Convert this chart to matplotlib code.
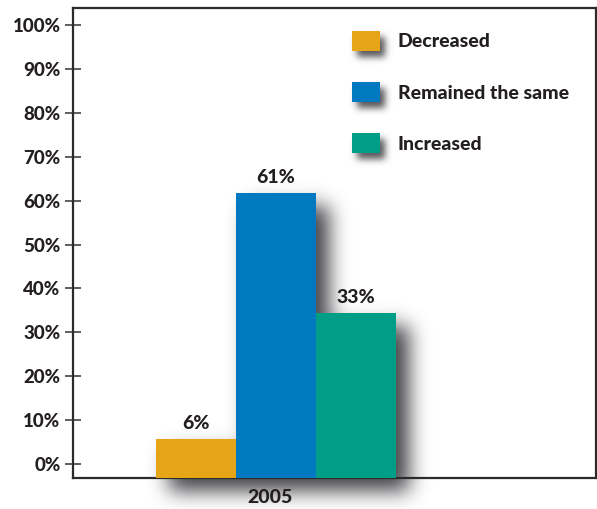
import numpy as np
import matplotlib
matplotlib.use("Agg")
import matplotlib.pyplot as plt
from matplotlib.patches import Patch

# ---- data ----
categories = ["2005"]
series = ["Decreased", "Remained the same", "Increased"]
values = [5.7, 61.8, 34.4]          # bar heights as drawn in the picture
value_labels = ["6%", "61%", "33%"]  # printed labels
colors = ["#E6A417", "#0079C1", "#009E87"]
yticks = list(range(0, 101, 10))
ytick_labels = [f"{v}%" for v in yticks]

plt.rcParams['font.family'] = ['Lato', 'DejaVu Sans']
TXT = "#231F20"
FW = 900
FS = 14

W, H, DPI = 597, 509, 100
fig = plt.figure(figsize=(W / DPI, H / DPI), dpi=DPI, facecolor="white")
ax = fig.add_axes([73 / W, (H - 478) / H, 523 / W, 470 / H])
ax.set_facecolor("none")

ymin, ymax = -3.2, 103.9
ax.set_ylim(ymin, ymax)
ax.set_xlim(-2.54, 4.0)

offsets = [-1, 0, 1]
bars = []
for i, (s, v, c) in enumerate(zip(series, values, colors)):
    b = ax.bar(offsets[i], v - ymin, bottom=ymin, width=1.0, color=c,
               label=s, zorder=3)
    bars.append(b[0])
    ax.annotate(value_labels[i], (offsets[i], v), xytext=(0, 5),
                textcoords="offset points", ha="center", va="bottom",
                fontsize=FS, fontweight=FW, color=TXT, zorder=4)

ax.set_yticks(yticks)
ax.set_yticklabels(ytick_labels, fontweight=FW)
ax.set_xticks([-0.07])
ax.set_xticklabels(categories, fontweight=FW)
ax.tick_params(axis="y", direction="inout", length=12, width=1.2,
               color="#444444", pad=3, labelsize=FS - 0.5, labelcolor=TXT)
ax.tick_params(axis="x", length=0, pad=8, labelsize=FS, labelcolor=TXT)
for sp in ax.spines.values():
    sp.set_linewidth(1.6)
    sp.set_color("#2b2b2b")

handles = [Patch(facecolor=c, edgecolor="none") for c in colors]
leg = ax.legend(handles, series, loc="upper left",
                bbox_to_anchor=((352 - 73) / 523, (478 - 31) / 470),
                frameon=False, fontsize=FS, handlelength=1.44,
                handleheight=1.18, labelspacing=1.62, handletextpad=0.9,
                borderpad=0, borderaxespad=0)
for t in leg.get_texts():
    t.set_color(TXT)
    t.set_fontweight(FW)

# ---- drop shadows (blurred) ----
fig.canvas.draw()


def gauss_blur(img, sigma):
    r = int(3 * sigma)
    x = np.arange(-r, r + 1)
    k = np.exp(-x ** 2 / (2 * sigma ** 2))
    k /= k.sum()
    pad = np.pad(img, r, mode="constant")
    tmp = np.apply_along_axis(lambda m: np.convolve(m, k, mode="valid"), 0, pad)
    out = np.apply_along_axis(lambda m: np.convolve(m, k, mode="valid"), 1, tmp)
    return out


def mask_from(extents, dx, dy):
    m = np.zeros((H, W))
    for e in extents:
        x0, x1 = int(round(e.x0 + dx)), int(round(e.x1 + dx))
        y0, y1 = int(round(e.y0 - dy)), int(round(e.y1 - dy))
        x0, x1 = max(x0, 0), min(x1, W)
        y0, y1 = max(y0, 0), min(y1, H)
        m[y0:y1, x0:x1] = 1.0
    return m

renderer = fig.canvas.get_renderer()
bar_ext = [b.get_window_extent(renderer) for b in bars]
leg_ext = [p.get_window_extent(renderer) for p in leg.get_patches()]

mb = gauss_blur(mask_from(bar_ext, 13, 13), 10) * 0.95
ml = gauss_blur(mask_from(leg_ext, 5, 6), 3.5) * 0.85
alpha = np.clip(np.maximum(mb, ml), 0, 1)
rgba = np.zeros((H, W, 4))
rgba[..., 0] = 0.22
rgba[..., 1] = 0.22
rgba[..., 2] = 0.24
rgba[..., 3] = alpha
fig.figimage(rgba, xo=0, yo=0, origin="lower", zorder=-1)

fig.savefig("out.png", dpi=DPI, facecolor="white")
